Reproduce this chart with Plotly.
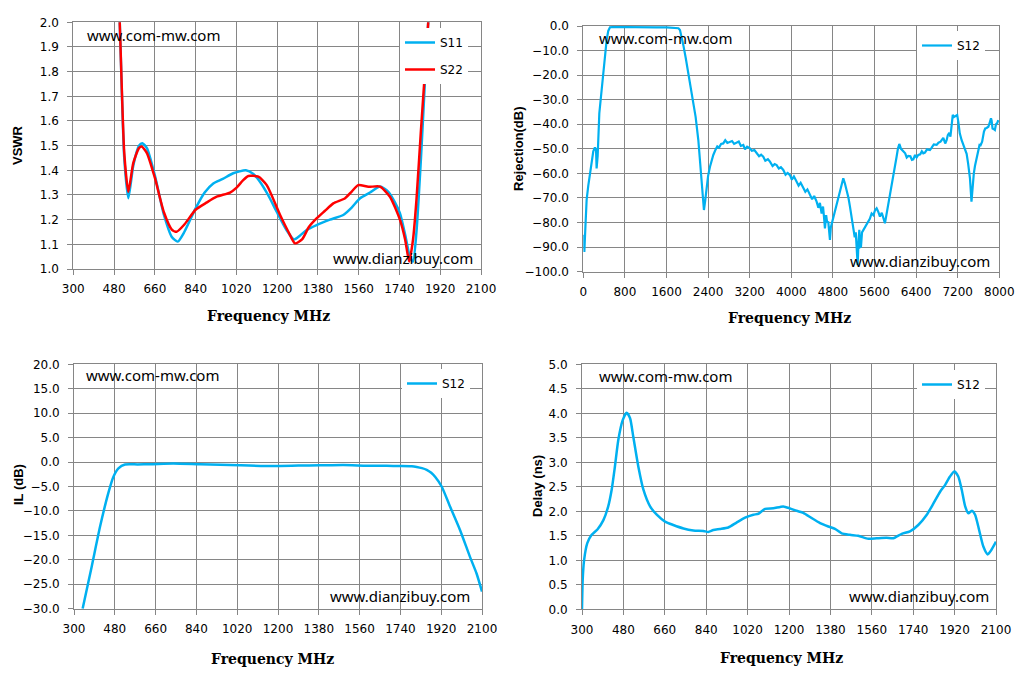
import plotly.graph_objects as go

# VSWR chart
vswr_s11_f = [480, 505, 525, 543, 565, 590, 605, 625, 660, 700, 735, 761, 790, 840, 880, 918, 960,
              1006, 1062, 1095, 1124, 1160, 1198, 1240, 1274, 1300, 1330, 1374, 1433, 1492, 1530,
              1566, 1610, 1654, 1691, 1720, 1742, 1765, 1786, 1800, 1815, 1835, 1852, 1867, 1885]
vswr_s11 = [2.6, 2.0, 1.45, 1.287, 1.42, 1.50, 1.51, 1.49, 1.38, 1.22, 1.13, 1.111, 1.15, 1.246, 1.31,
            1.347, 1.365, 1.388, 1.40, 1.385, 1.354, 1.30, 1.232, 1.16, 1.12, 1.135, 1.158, 1.178, 1.20,
            1.219, 1.25, 1.287, 1.31, 1.334, 1.313, 1.27, 1.226, 1.14, 1.05, 1.03, 1.15, 1.45, 1.753, 2.0, 2.4]
vswr_s22_f = [480, 505, 525, 543, 565, 590, 602, 625, 660, 700, 735, 756, 790, 840, 890, 933, 992,
              1021, 1050, 1073, 1117, 1154, 1213, 1250, 1279, 1310, 1340, 1374, 1410, 1448, 1500,
              1530, 1558, 1603, 1654, 1698, 1742, 1765, 1783, 1800, 1815, 1834, 1867, 1885]
vswr_s22 = [2.6, 2.0, 1.47, 1.313, 1.43, 1.49, 1.496, 1.47, 1.37, 1.23, 1.16, 1.151, 1.18, 1.24, 1.27,
            1.293, 1.31, 1.33, 1.36, 1.377, 1.374, 1.34, 1.219, 1.15, 1.104, 1.12, 1.17, 1.205, 1.235,
            1.266, 1.287, 1.315, 1.34, 1.333, 1.334, 1.293, 1.20, 1.12, 1.03, 1.12, 1.28, 1.55, 2.0, 2.3]

# Rejection chart (wideband S12)
rej_f = [0, 20, 40, 64, 96, 128, 160, 192, 224, 245, 256, 266, 276, 308, 345, 385, 420, 449, 480,
         513, 600, 800, 1000, 1200, 1400, 1600, 1795, 1830, 1859, 1890, 1923, 1970, 2019, 2070,
         2115, 2160, 2212, 2250, 2276, 2300, 2320, 2345, 2372, 2400, 2436, 2470, 2500, 2540, 2577,
         2610, 2650, 2692, 2730, 2770, 2820, 2860, 2900, 2949, 2990, 3030, 3077, 3110, 3150, 3205,
         3240, 3290, 3333, 3380, 3420, 3461, 3500, 3550, 3590, 3640, 3680, 3718, 3760, 3800, 3846,
         3890, 3930, 3974, 4010, 4050, 4103, 4140, 4180, 4231, 4270, 4310, 4359, 4400, 4440, 4487,
         4520, 4550, 4583, 4610, 4630, 4647, 4670, 4690, 4711, 4730, 4743, 4760, 4795, 4830, 4872,
         4905, 4936, 4970, 5000, 5030, 5064, 5100, 5128, 5160, 5192, 5220, 5240, 5256, 5276, 5292,
         5308, 5325, 5340, 5360, 5385, 5420, 5450, 5481, 5510, 5545, 5580, 5610, 5641, 5670, 5705,
         5740, 5770, 5801, 5820, 5833, 5860, 5897, 5930, 5961, 5990, 6025, 6050, 6077, 6110, 6154,
         6190, 6220, 6250, 6290, 6320, 6346, 6380, 6410, 6442, 6480, 6510, 6538, 6570, 6610, 6666,
         6700, 6740, 6795, 6830, 6870, 6923, 6960, 6987, 7010, 7038, 7060, 7083, 7105, 7128, 7160,
         7190, 7212, 7240, 7276, 7320, 7372, 7400, 7436, 7465, 7487, 7510, 7532, 7560, 7596, 7620,
         7641, 7670, 7705, 7730, 7756, 7790, 7820, 7840, 7852, 7870, 7897, 7915, 7936, 7960, 7980, 8000]
rej_db = [-85, -92, -82, -70.8, -65, -60, -55, -51, -49.4, -50.5, -58, -56, -53, -35.5, -27, -19.3,
          -11, -5.7, -2, -0.5, -0.4, -0.5, -0.6, -0.6, -0.6, -0.6, -0.6, -0.9, -1.6, -4, -7.7, -13,
          -19.3, -25, -30.1, -37, -46.4, -56, -65.4, -71, -74.9, -71, -65.4, -61, -57.3, -54, -52.5,
          -50.5, -49, -49.5, -48, -47.8, -46.5, -47.6, -47.1, -46.8, -48, -47.5, -47, -48.8, -48.4,
          -50.2, -49.1, -49.8, -50.8, -50.5, -51.6, -53, -52.4, -53.2, -54.8, -54.2, -55.2, -57,
          -56.2, -56.6, -58, -57.5, -58.6, -60.5, -59.8, -60.7, -62.5, -61.2, -63.4, -65, -63.8,
          -66.1, -67.5, -66.5, -68.8, -70.5, -69.2, -71.5, -74, -72, -76.3, -73.5, -78, -82.4, -77,
          -80, -79.6, -84, -87.1, -82, -79, -77, -73.5, -70.5, -68.1, -64, -62, -64, -66.8, -70,
          -73.5, -78, -83, -86, -84, -89.8, -97.3, -88, -83, -90, -89.8, -84, -83, -82, -80.5,
          -79.6, -78.5, -76.3, -77, -75, -74.2, -75.5, -77.6, -76, -78.5, -80.3, -78, -76.3, -73,
          -69.5, -65, -61.3, -57, -53.2, -50, -48, -50, -51.2, -51.8, -53.5, -52.9, -53, -54.5,
          -54.3, -52.5, -53.5, -52.5, -52.2, -51, -51.8, -51.5, -50.2, -50.5, -49.5, -48.2, -48.4,
          -47.5, -47.1, -45.5, -47.8, -46.5, -44.4, -43.5, -45, -40, -36.2, -37, -36.5, -36.2, -39,
          -43.7, -46.5, -49.1, -52, -55.9, -62, -71.5, -64, -60, -57, -54.5, -50, -48.4, -48.5,
          -47.1, -43, -41.7, -41.5, -41, -39, -37.6, -38.5, -41.7, -42, -42.3, -40, -39.5, -38.3]

# Insertion loss chart
il_f = [338, 378, 415, 451, 474, 496, 525, 580, 635, 738, 856, 1032, 1179, 1290, 1385, 1488,
        1591, 1680, 1738, 1790, 1812, 1835, 1856, 1876, 1893, 1922, 1959, 2003, 2047, 2076, 2100]
il_db = [-30, -21.4, -13.2, -6.4, -3.0, -1.3, -0.5, -0.48, -0.46, -0.3, -0.46, -0.67, -0.8, -0.72,
         -0.67, -0.6, -0.74, -0.78, -0.8, -0.85, -1.0, -1.25, -1.6, -2.2, -3.0, -5.0, -9.1, -13.9,
         -19.4, -22.8, -26.5]

# Group delay chart
dly_f = [300, 303, 309, 323, 342, 367, 393, 414, 429, 443, 458, 477, 494, 509, 523, 545, 567,
         596, 625, 661, 697, 741, 784, 828, 849, 871, 900, 936, 972, 1009, 1045, 1067, 1096,
         1132, 1175, 1204, 1233, 1262, 1299, 1335, 1371, 1400, 1429, 1465, 1501, 1545, 1581,
         1624, 1654, 1690, 1726, 1762, 1799, 1828, 1857, 1879, 1900, 1919, 1936, 1951, 1966,
         1980, 1995, 2009, 2023, 2045, 2064, 2081, 2100]
dly_ns = [0.0, 0.6, 1.0, 1.35, 1.52, 1.63, 1.82, 2.1, 2.44, 2.91, 3.46, 3.86, 4.01, 3.9, 3.52,
          2.91, 2.44, 2.1, 1.93, 1.79, 1.72, 1.65, 1.61, 1.6, 1.58, 1.62, 1.64, 1.67, 1.77, 1.87,
          1.93, 1.95, 2.05, 2.06, 2.1, 2.06, 2.01, 1.97, 1.86, 1.76, 1.69, 1.64, 1.55, 1.52, 1.5,
          1.44, 1.45, 1.46, 1.45, 1.54, 1.59, 1.72, 1.93, 2.16, 2.4, 2.54, 2.71, 2.81, 2.71, 2.44,
          2.1, 1.96, 2.01, 1.93, 1.69, 1.28, 1.12, 1.22, 1.38]

# the page puts the figure 8px in from the top-left corner
OFF = 8
W, H = 1025 - OFF, 676 - OFF
BLUE = '#00B0F0'
RED = '#FF0000'
GRID = '#868686'

def px(x):
    return (x - OFF) / W

def py(y):
    return 1 - (y - OFF) / H

fig = go.Figure()

fig.add_trace(go.Scatter(x=vswr_s11_f, y=vswr_s11, name='S11', mode='lines',
                         line=dict(color=BLUE, width=2.5, shape='spline', smoothing=0.6),
                         xaxis='x', yaxis='y', legend='legend', legendgroup='a'))
fig.add_trace(go.Scatter(x=vswr_s22_f, y=vswr_s22, name='S22', mode='lines',
                         line=dict(color=RED, width=2.5, shape='spline', smoothing=0.6),
                         xaxis='x', yaxis='y', legend='legend', legendgroup='b'))
fig.add_trace(go.Scatter(x=rej_f, y=rej_db, name='S12', mode='lines',
                         line=dict(color=BLUE, width=2.2),
                         xaxis='x2', yaxis='y2', legend='legend2'))
fig.add_trace(go.Scatter(x=il_f, y=il_db, name='S12', mode='lines',
                         line=dict(color=BLUE, width=2.5, shape='spline', smoothing=0.6),
                         xaxis='x3', yaxis='y3', legend='legend3'))
fig.add_trace(go.Scatter(x=dly_f, y=dly_ns, name='S12', mode='lines',
                         line=dict(color=BLUE, width=2.5, shape='spline', smoothing=0.6),
                         xaxis='x4', yaxis='y4', legend='legend4'))

tick_font = dict(family='DejaVu Sans', size=12, color='black')

def xax(dom, anchor, rng, dtick):
    return dict(domain=dom, anchor=anchor, range=rng, dtick=dtick, tick0=rng[0],
                showgrid=True, gridcolor=GRID, gridwidth=1, showline=True, mirror=True,
                linecolor=GRID, linewidth=1, ticks='outside', ticklen=5, tickcolor=GRID,
                tickfont=tick_font, ticklabelstandoff=4, zeroline=False, fixedrange=True,
                automargin=False)

def yax(dom, anchor, rng, dtick):
    return dict(domain=dom, anchor=anchor, range=rng, dtick=dtick, tick0=rng[0],
                tickformat='.1f', showgrid=True, gridcolor=GRID, gridwidth=1, showline=True,
                mirror=True, linecolor=GRID, linewidth=1, ticks='outside', ticklen=5,
                tickcolor=GRID, tickfont=tick_font, ticklabelstandoff=6, zeroline=False,
                fixedrange=True, automargin=False)

leg_common = dict(bgcolor='white', borderwidth=0, xanchor='left', yanchor='top',
                  font=dict(family='DejaVu Sans', size=12, color='black'))

fig.update_layout(
    width=W, height=H,
    margin=dict(l=0, r=0, t=0, b=0, autoexpand=False),
    paper_bgcolor='white', plot_bgcolor='white',
    xaxis=xax([px(73.3), px(481)], 'y', [300, 2100], 180),
    yaxis=yax([py(269), py(22.3)], 'x', [1.0, 2.0], 0.1),
    xaxis2=xax([px(583.3), px(999.3)], 'y2', [0, 8000], 800),
    yaxis2=yax([py(271.7), py(26)], 'x2', [-100, 0], 10),
    xaxis3=xax([px(74), px(482)], 'y3', [300, 2100], 180),
    yaxis3=yax([py(608.7), py(364.3)], 'x3', [-30, 20], 5),
    xaxis4=xax([px(582), px(996)], 'y4', [300, 2100], 180),
    yaxis4=yax([py(609.3), py(364.3)], 'x4', [0, 5], 0.5),
    legend=dict(x=px(400), y=py(28), traceorder='grouped', tracegroupgap=8, **leg_common),
    legend2=dict(x=px(917), y=py(31), **leg_common),
    legend3=dict(x=px(402), y=py(369), **leg_common),
    legend4=dict(x=px(917), y=py(370), **leg_common),
)

annotations = []

wm_font = dict(family='Noto Sans', size=15, color='black')
for x0, y0 in [(85, 35), (597, 38), (84, 375), (597, 376)]:
    annotations.append(dict(text='www.com-mw.com', x=px(x0), y=py(y0), xref='paper', yref='paper',
                            xanchor='left', yanchor='middle', showarrow=False, font=wm_font))
for x0, y0 in [(331, 258), (848, 261), (328, 596), (847, 596)]:
    annotations.append(dict(text='www.dianzibuy.com', x=px(x0), y=py(y0), xref='paper', yref='paper',
                            xanchor='left', yanchor='middle', showarrow=False, font=wm_font))

xt_font = dict(family='DejaVu Serif', size=14, color='black')
for x0, y0 in [(268, 316), (789, 318), (272, 659), (781, 658)]:
    annotations.append(dict(text='<b>Frequency MHz</b>', x=px(x0), y=py(y0), xref='paper',
                            yref='paper', xanchor='center', yanchor='middle', showarrow=False,
                            font=xt_font))

yt_font = dict(family='Liberation Sans, Arial', size=13, color='black')
for label, x0, y0 in [('VSWR', 17, 145), ('Rejection(dB)', 518, 148),
                      ('IL (dB)', 18, 485), ('Delay (ns)', 537, 486)]:
    annotations.append(dict(text='<b>' + label + '</b>', x=px(x0), y=py(y0), xref='paper',
                            yref='paper', xanchor='center', yanchor='middle', textangle=-90,
                            showarrow=False, font=yt_font))

fig.update_layout(annotations=annotations)

fig.write_html('out.html')
